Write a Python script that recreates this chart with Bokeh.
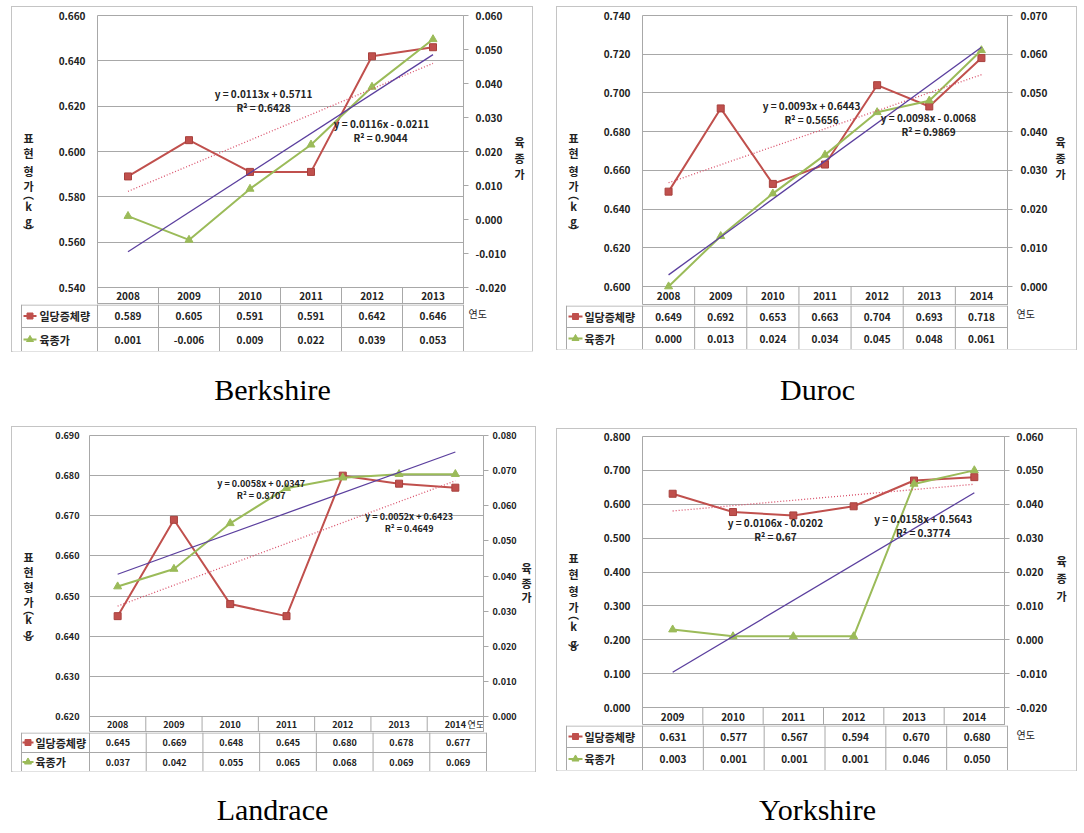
import numpy as np
from bokeh.plotting import figure
from bokeh.models import Range1d, LinearAxis, FixedTicker, PrintfTickFormatter, Label, Spacer
from bokeh.layouts import row, column
from bokeh.embed import file_html
from bokeh.resources import INLINE
from bokeh.core.properties import value

# ---------------- data ----------------
SERIES_ADG = "일당증체량"
SERIES_BV = "육종가"
LEFT_TITLE = ["표", "현", "형", "가", "︵", "k", "g", "︶"]
RIGHT_TITLE = ["육", "종", "가"]
X_TITLE = "연도"

berk_years = [2008, 2009, 2010, 2011, 2012, 2013]
berk_adg = [0.589, 0.605, 0.591, 0.591, 0.642, 0.646]
berk_bv = [0.001, -0.006, 0.009, 0.022, 0.039, 0.053]
berk_adg_trend = [0.0113, 0.5711, 0.6428]   # slope, intercept, R2
berk_bv_trend = [0.0116, -0.0211, 0.9044]
berk_left_ticks = [0.54, 0.56, 0.58, 0.60, 0.62, 0.64, 0.66]
berk_right_ticks = [-0.02, -0.01, 0.0, 0.01, 0.02, 0.03, 0.04, 0.05, 0.06]

duroc_years = [2008, 2009, 2010, 2011, 2012, 2013, 2014]
duroc_adg = [0.649, 0.692, 0.653, 0.663, 0.704, 0.693, 0.718]
duroc_bv = [0.000, 0.013, 0.024, 0.034, 0.045, 0.048, 0.061]
duroc_adg_trend = [0.0093, 0.6443, 0.5656]
duroc_bv_trend = [0.0098, -0.0068, 0.9869]
duroc_left_ticks = [0.60, 0.62, 0.64, 0.66, 0.68, 0.70, 0.72, 0.74]
duroc_right_ticks = [0.0, 0.01, 0.02, 0.03, 0.04, 0.05, 0.06, 0.07]

land_years = [2008, 2009, 2010, 2011, 2012, 2013, 2014]
land_adg = [0.645, 0.669, 0.648, 0.645, 0.680, 0.678, 0.677]
land_bv = [0.037, 0.042, 0.055, 0.065, 0.068, 0.069, 0.069]
land_adg_trend = [0.0052, 0.6423, 0.4649]
land_bv_trend = [0.0058, 0.0347, 0.8707]
land_left_ticks = [0.62, 0.63, 0.64, 0.65, 0.66, 0.67, 0.68, 0.69]
land_right_ticks = [0.0, 0.01, 0.02, 0.03, 0.04, 0.05, 0.06, 0.07, 0.08]

york_years = [2009, 2010, 2011, 2012, 2013, 2014]
york_adg = [0.631, 0.577, 0.567, 0.594, 0.670, 0.680]
york_bv = [0.003, 0.001, 0.001, 0.001, 0.046, 0.050]
york_adg_trend = [0.0158, 0.5643, 0.3774]
york_bv_trend = [0.0106, -0.0202, 0.67]
york_left_ticks = [0.0, 0.1, 0.2, 0.3, 0.4, 0.5, 0.6, 0.7, 0.8]
york_right_ticks = [-0.02, -0.01, 0.0, 0.01, 0.02, 0.03, 0.04, 0.05, 0.06]

# ---------------- style ----------------
FONT = "Noto Sans CJK KR"
SERIF = "Liberation Serif"
RED = "#C0504D"
RED_DARK = "#A8403D"
RED_TREND = "#D9506A"
GREEN = "#9BBB59"
PURPLE = "#5B3F9E"
GRID = "#A8A8A8"
TEXT = "#222222"
BOX = {"outline": "1px solid #C4C4C4"}

# layout geometry (page pixel positions)
G = {
    "Berkshire": dict(bx=12, bw=520, cx0=45, cx1=510, top=7, fl=97, fr=463, ft=15, fb=287,
                      rows=[287, 304, 327, 351], tl=21, key=(2, 15, 18),
                      cap_h=76, cap_cx=260, cap_mid=38, lstand=12, rstand=7, fs="10px", eqfs="10px",
                      ltx=28, lty=[133, 148, 167, 182, 190, 203, 218, 228], rtx=519, rty=[137, 153, 170],
                      eq_adg=((263, 93), (263, 107)), eq_bv=((381, 123), (380, 137)),
                      xt=(468, 313, "10px")),
    "Duroc": dict(bx=557, bw=519, cx0=590, cx1=1050, top=7, fl=642, fr=1007, ft=15, fb=286,
                  rows=[286, 305, 327, 349], tl=566, key=(2, 16, 18),
                  cap_h=80, cap_cx=260, cap_mid=40, lstand=12, rstand=8, fs="10px", eqfs="10px",
                  ltx=573, lty=[133, 148, 167, 182, 190, 203, 218, 228], rtx=1060, rty=[137, 153, 170],
                  eq_adg=((811, 105), (811, 119)), eq_bv=((928, 117), (928, 131)),
                  xt=(1016, 313, "10px")),
    "Landrace": dict(bx=12, bw=523, cx0=42, cx1=519, top=427, fl=89, fr=486, ft=435, fb=716,
                     rows=[716, 732, 752, 771], tl=21, key=(1, 12, 14),
                     cap_h=61, cap_cx=260, cap_mid=38, lstand=10, rstand=4, fs="9px", eqfs="9px",
                     ltx=28, lty=[552, 567, 583, 598, 605, 615, 630, 637], rtx=526, rty=[563, 578, 593],
                     eq_adg=((411, 516), (411, 528)), eq_bv=((262, 483), (262, 495)),
                     xt=(470, 724, "9px")),
    "Yorkshire": dict(bx=557, bw=519, cx0=590, cx1=1050, top=429, fl=642, fr=1007, ft=436, fb=707,
                      rows=[707, 725, 747, 770], tl=566, key=(2, 16, 18),
                      cap_h=62, cap_cx=260, cap_mid=39, lstand=12, rstand=7, fs="10px", eqfs="10px",
                      ltx=573, lty=[553, 570, 587, 604, 611, 623, 640, 647], rtx=1061, rty=[557, 574, 592],
                      eq_adg=((925, 518), (925, 532)), eq_bv=((776, 522), (776, 536)),
                      xt=(1016, 734, "10px")),
}


def eq_text(tr):
    m, b, r2 = tr
    sign = "+" if b >= 0 else "-"
    return f"y = {m:g}x {sign} {abs(b):.4f}", f"R² = {r2:g}"


def plain(fig):
    fig.grid.visible = False
    fig.border_fill_color = "white"
    fig.background_fill_color = "white"
    return fig


def title_fig(x0, x1, g, cx, ys, chars):
    w = x1 - x0
    h = g["rows"][1] - g["top"]
    f = plain(figure(width=w, height=h, output_backend="svg", toolbar_location=None,
                     x_range=Range1d(0, w), y_range=Range1d(h, 0), x_axis_location=None,
                     y_axis_location=None, min_border=0, outline_line_color=None))
    f.text([cx - x0] * len(chars), [y - g["top"] for y in ys], text=chars, text_font=value(FONT),
           text_font_size="11px", text_font_style="bold", text_align="center",
           text_baseline="middle", text_color=TEXT)
    return f


def chart(years, adg, bv, adg_tr, bv_tr, lt, rt, g):
    """Plot area plus the header row of the data table (the year labels)."""
    n = len(years)
    lo, hi = lt[0], lt[-1]
    rlo, rhi = rt[0], rt[-1]
    fh = g["fb"] - g["ft"]
    hdr = g["rows"][1] - g["fb"]
    lo_e = lo - (hi - lo) * hdr / fh
    rlo_e = rlo - (rhi - rlo) * hdr / fh
    w = g["cx1"] - g["cx0"]
    p = figure(width=w, height=g["rows"][1] - g["top"], output_backend="svg", toolbar_location=None,
               x_range=Range1d(-0.5, n - 0.5), y_range=Range1d(lo_e, hi), x_axis_location=None,
               min_border_left=g["fl"] - g["cx0"], min_border_right=g["cx1"] - g["fr"],
               min_border_top=g["ft"] - g["top"], min_border_bottom=0)
    p.extra_y_ranges = {"r": Range1d(rlo_e, rhi)}
    p.background_fill_color = "white"
    p.border_fill_color = "white"
    p.outline_line_color = GRID
    ya = p.yaxis[0]
    ya.ticker = FixedTicker(ticks=lt)
    ya.formatter = PrintfTickFormatter(format="%.3f")
    ya.major_tick_out = 0
    ya.major_tick_in = 0
    ya.minor_tick_line_color = None
    ya.axis_line_color = None
    ya.major_label_standoff = g["lstand"]
    ra = LinearAxis(y_range_name="r", ticker=FixedTicker(ticks=rt), formatter=PrintfTickFormatter(format="%.3f"))
    ra.major_tick_out = 5
    ra.major_tick_in = 0
    ra.major_tick_line_color = GRID
    ra.minor_tick_line_color = None
    ra.axis_line_color = GRID
    ra.major_label_standoff = g["rstand"]
    p.add_layout(ra, "right")
    for ax in (ya, ra):
        ax.major_label_text_font = FONT
        ax.major_label_text_font_size = g["fs"]
        ax.major_label_text_font_style = "bold"
        ax.major_label_text_color = TEXT
    for gr in p.ygrid:
        gr.grid_line_color = GRID
    for gr in p.xgrid:
        gr.grid_line_color = None

    cat = (g["fr"] - g["fl"]) / n

    def dx(px):
        return -0.5 + (px - g["fl"]) / cat

    def dy(py):
        return hi - (py - g["ft"]) * (hi - lo) / fh

    x = list(range(n))
    # header row of the table: dividers + years
    vx = [-0.5 + k for k in range(1, n)]
    p.segment(vx, [lo_e] * len(vx), vx, [lo] * len(vx), line_color=GRID, line_width=1)
    p.text(x, [dy((g["fb"] + g["rows"][1]) / 2)] * n, text=[str(y) for y in years],
           text_font=value(FONT), text_font_size=g["fs"], text_font_style="bold",
           text_align="center", text_baseline="middle", text_color=TEXT)
    px, py, sz = g["xt"]
    if py < g["rows"][1]:
        p.text([dx(px)], [dy(py)], text=[X_TITLE], text_font=value(FONT), text_font_size=sz,
               text_align="left", text_baseline="middle", text_color=TEXT)

    # series
    p.line(x, adg, line_color=RED, line_width=2)
    p.scatter(x, adg, marker="square", size=7, fill_color=RED, line_color=RED_DARK)
    p.line(x, bv, y_range_name="r", line_color=GREEN, line_width=2)
    p.scatter(x, bv, y_range_name="r", marker="triangle", size=8, fill_color=GREEN, line_color=GREEN)
    # linear trend lines from the printed equations (x = 1 .. n)
    tx = np.array([0, n - 1])
    p.line(tx, adg_tr[0] * (tx + 1) + adg_tr[1], line_color=RED_TREND, line_dash="1 2", line_width=1.3)
    p.line(tx, bv_tr[0] * (tx + 1) + bv_tr[1], y_range_name="r", line_color=PURPLE, line_width=1.3)

    for tr, pos in ((adg_tr, g["eq_adg"]), (bv_tr, g["eq_bv"])):
        for txt, (ex, ey) in zip(eq_text(tr), pos):
            p.add_layout(Label(x=dx(ex), y=dy(ey), text=txt, text_font=FONT, text_font_size=g["eqfs"],
                               text_font_style="bold", text_align="center", text_baseline="middle",
                               text_color=TEXT))
    return p


def table(years, adg, bv, g):
    """Two value rows of the data table with legend keys."""
    n = len(years)
    r = [v - g["rows"][1] for v in g["rows"][1:]]
    H = r[-1]
    cat = (g["fr"] - g["fl"]) / n
    left_px = g["tl"] - 1
    xs = -0.5 - (g["fl"] - left_px) / cat
    xe = n - 0.5 + (g["bx"] + g["bw"] - g["fr"]) / cat
    t = plain(figure(width=g["bw"], height=H, output_backend="svg", toolbar_location=None,
                     x_range=Range1d(xs, xe), y_range=Range1d(H, 0), x_axis_location=None,
                     y_axis_location=None, min_border_left=left_px - g["bx"], min_border_right=0,
                     min_border_top=0, min_border_bottom=0, outline_line_color=None))
    xl = -0.5 - (g["fl"] - g["tl"]) / cat
    vx = [-0.5 + k for k in range(n + 1)] + [xl]
    t.segment(vx, [0] * len(vx), vx, [H] * len(vx), line_color=GRID, line_width=1)
    t.segment([xl, xl], [0.5, r[1]], [n - 0.5, n - 0.5], [0.5, r[1]], line_color=GRID, line_width=1)

    x = list(range(n))
    common = dict(text_font=value(FONT), text_font_size=g["fs"], text_font_style="bold",
                  text_align="center", text_baseline="middle", text_color=TEXT)
    t.text(x, [(r[0] + r[1]) / 2] * n, text=[f"{v:.3f}" for v in adg], **common)
    t.text(x, [(r[1] + r[2]) / 2] * n, text=[f"{v:.3f}" for v in bv], **common)

    k0, k1, kt = g["key"]
    for (ri, name, col, mk, sz) in ((0, SERIES_ADG, RED, "square", 6), (1, SERIES_BV, GREEN, "triangle", 7)):
        yc = (r[ri] + r[ri + 1]) / 2
        t.segment([xl + k0 / cat], [yc], [xl + k1 / cat], [yc], line_color=col, line_width=2)
        t.scatter([xl + (k0 + k1) / 2 / cat], [yc], marker=mk, size=sz, fill_color=col, line_color=col)
        t.text([xl + kt / cat], [yc], text=[name], text_font=value(FONT), text_font_size="11px",
               text_font_style="bold", text_align="left", text_baseline="middle", text_color=TEXT)

    px, py, sz = g["xt"]
    if py >= g["rows"][1]:
        t.text([-0.5 + (px - g["fl"]) / cat], [py - g["rows"][1]], text=[X_TITLE], text_font=value(FONT),
               text_font_size=sz, text_align="left", text_baseline="middle", text_color=TEXT)
    return t


def caption(text, g, W):
    H = g["cap_h"]
    c = plain(figure(width=W, height=H, output_backend="svg", toolbar_location=None,
                     x_range=Range1d(0, W), y_range=Range1d(H, 0), x_axis_location=None,
                     y_axis_location=None, min_border=0, outline_line_color=None))
    c.text([g["cap_cx"]], [g["cap_mid"]], text=[text], text_font=value(SERIF), text_font_size="30px",
           text_align="center", text_baseline="middle", text_color="black")
    return c


def panel(name, years, adg, bv, adg_tr, bv_tr, lt, rt, colw):
    g = G[name]
    lf = title_fig(g["bx"], g["cx0"], g, g["ltx"], g["lty"], LEFT_TITLE)
    ch = chart(years, adg, bv, adg_tr, bv_tr, lt, rt, g)
    rf = title_fig(g["cx1"], g["bx"] + g["bw"], g, g["rtx"], g["rty"], RIGHT_TITLE)
    tb = table(years, adg, bv, g)
    box = column(row(lf, ch, rf), tb, styles=BOX)
    return box, caption(name, g, colw)


b1, c1 = panel("Berkshire", berk_years, berk_adg, berk_bv, berk_adg_trend, berk_bv_trend,
               berk_left_ticks, berk_right_ticks, 523)
b2, c2 = panel("Duroc", duroc_years, duroc_adg, duroc_bv, duroc_adg_trend, duroc_bv_trend,
               duroc_left_ticks, duroc_right_ticks, 519)
b3, c3 = panel("Landrace", land_years, land_adg, land_bv, land_adg_trend, land_bv_trend,
               land_left_ticks, land_right_ticks, 523)
b4, c4 = panel("Yorkshire", york_years, york_adg, york_bv, york_adg_trend, york_bv_trend,
               york_left_ticks, york_right_ticks, 519)

colA = column(Spacer(width=10, height=7), b1, c1, b3, c3)
colB = column(Spacer(width=10, height=7), b2, c2, b4, c4)
page = row(Spacer(width=12, height=10), colA, Spacer(width=22, height=10), colB)

open("out.html", "w").write(file_html(page, INLINE, title="Breeding value trends"))
